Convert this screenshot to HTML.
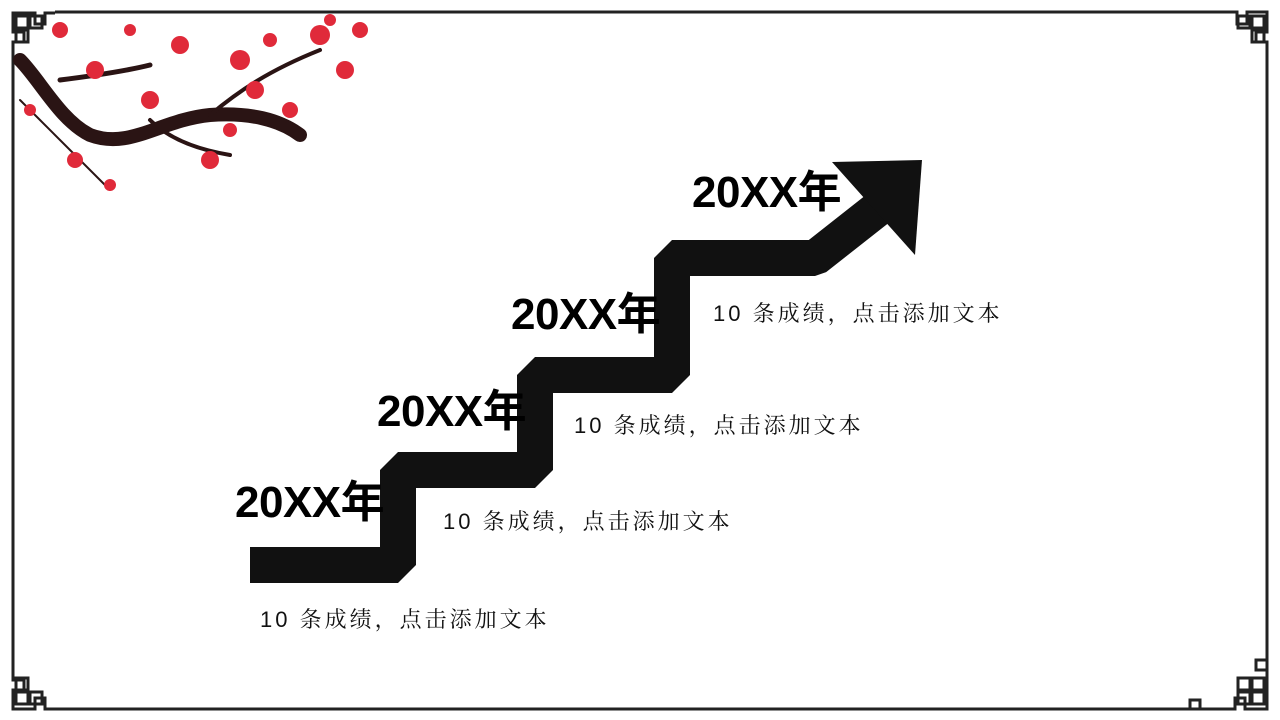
<!DOCTYPE html>
<html><head><meta charset="utf-8"><style>
body{margin:0;width:1280px;height:720px;background:#fff;position:relative;overflow:hidden;font-family:"Liberation Sans","Noto Sans CJK SC",sans-serif}
.y{position:absolute;font-weight:bold;font-size:44px;color:#000;line-height:1;letter-spacing:-0.5px}
.c{position:absolute;font-size:22px;color:#111;line-height:1;letter-spacing:3px;font-family:"Liberation Sans","Noto Serif CJK SC",serif}
svg{position:absolute;left:0;top:0}
</style></head><body>
<svg width="1280" height="720">
<g fill="none" stroke="#222" stroke-width="3">
<path d="M55 12 H1225 M13 55 V670 M1267 55 V670 M55 709 H1225"/>
<path d="M13 55 V42 H24 V32 H13 V13 H35 V24 H45 V13 H55"/>
<rect x="16" y="16" width="12" height="12"/><rect x="30" y="16" width="12" height="12"/><rect x="16" y="30" width="12" height="12"/>
<path d="M1225 12 H1237 V24 H1247 V12 H1267 V32 H1256 V42 H1267 V55"/>
<rect x="1252" y="16" width="12" height="12"/><rect x="1238" y="16" width="12" height="12"/><rect x="1252" y="30" width="12" height="12"/>
<path d="M13 670 V680 H24 V690 H13 V709 H35 V698 H45 V709 H55"/>
<rect x="16" y="692" width="12" height="12"/><rect x="30" y="692" width="12" height="12"/><rect x="16" y="678" width="12" height="12"/>
<path d="M1267 640 V660 H1256 V670 H1267 V709 H1245 V698 H1235 V709 H1225 M1225 709 H1200 V700 H1190 V709 H1180"/>
<rect x="1252" y="692" width="12" height="12"/><rect x="1238" y="692" width="12" height="12"/><rect x="1252" y="678" width="12" height="12"/><rect x="1238" y="678" width="12" height="12"/>
</g>
<g fill="none" stroke="#2a1414" stroke-linecap="round">
<path d="M20 60 C40 80 60 120 90 135 C130 150 160 120 210 115 C250 112 280 120 300 135" stroke-width="14"/>
<path d="M60 80 C100 75 130 70 150 65" stroke-width="5"/>
<path d="M210 115 C240 90 270 70 320 50" stroke-width="4"/>
<path d="M150 120 C170 140 200 150 230 155" stroke-width="4"/>
<path d="M20 100 C50 130 80 160 110 190" stroke-width="2"/>
</g>
<g fill="#e02a3a">
<circle cx="60" cy="30" r="8"/><circle cx="95" cy="70" r="9"/><circle cx="180" cy="45" r="9"/><circle cx="240" cy="60" r="10"/><circle cx="255" cy="90" r="9"/><circle cx="320" cy="35" r="10"/><circle cx="345" cy="70" r="9"/><circle cx="360" cy="30" r="8"/><circle cx="210" cy="160" r="9"/><circle cx="75" cy="160" r="8"/><circle cx="150" cy="100" r="9"/><circle cx="30" cy="110" r="6"/><circle cx="290" cy="110" r="8"/><circle cx="110" cy="185" r="6"/><circle cx="330" cy="20" r="6"/><circle cx="130" cy="30" r="6"/><circle cx="230" cy="130" r="7"/><circle cx="270" cy="40" r="7"/>
</g>
<path d="M250 565 H398 V470 H535 V375 H672 V258 H815 L895 195" fill="none" stroke="#111" stroke-width="36" stroke-linejoin="bevel"/>
<path d="M832 162 L922 160 L915 255 Z" fill="#111"/>
</svg>
<div class="y" style="left:692px;top:171px">20XX年</div>
<div class="y" style="left:511px;top:293px">20XX年</div>
<div class="y" style="left:377px;top:390px">20XX年</div>
<div class="y" style="left:235px;top:481px">20XX年</div>
<div class="c" style="left:713px;top:303px">10 条成绩，点击添加文本</div>
<div class="c" style="left:574px;top:415px">10 条成绩，点击添加文本</div>
<div class="c" style="left:443px;top:511px">10 条成绩，点击添加文本</div>
<div class="c" style="left:260px;top:609px">10 条成绩，点击添加文本</div>
</body></html>
